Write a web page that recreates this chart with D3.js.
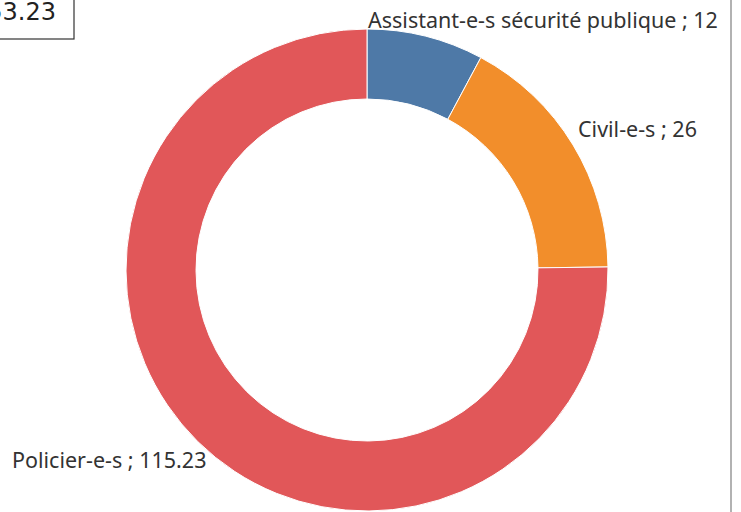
<!DOCTYPE html>
<html>
<head>
<meta charset="utf-8">
<script src="https://cdn.jsdelivr.net/npm/d3@7"></script>
<style>
  html, body { margin: 0; padding: 0; background: #fff; }
  svg { display: block; }
  text { font-family: "Noto Sans", "Open Sans", sans-serif; fill: #333; }
  text.total { font-family: "DejaVu Sans", sans-serif; fill: #222; }
</style>
</head>
<body>
<svg id="chart" width="741" height="512"></svg>
<script>
// Effectifs par catégorie
const categories = ["Assistant-e-s sécurité publique", "Civil-e-s", "Policier-e-s"];
const values = [12, 26, 115.23];
const colors = ["#4e79a7", "#f28e2b", "#e15759"];
const totalLabel = d3.format(".2f")(d3.sum(values));

const svg = d3.select("#chart");
const W = 741, H = 512;
const cx = 367, cy = 270;
const outerR = 241, innerR = 171;

const pie = d3.pie().sort(null).value(d => d.value);
const arcs = pie(categories.map((c, i) => ({ name: c, value: values[i], color: colors[i] })));
const arc = d3.arc().innerRadius(innerR).outerRadius(outerR);

const g = svg.append("g").attr("transform", `translate(${cx},${cy})`);
g.selectAll("path")
  .data(arcs)
  .join("path")
  .attr("d", arc)
  .attr("fill", d => d.data.color)
  .attr("stroke", "#fff")
  .attr("stroke-width", 1);

// Étiquettes des segments
const labelPos = [
  { x: 368, y: 28 },
  { x: 578, y: 137 },
  { x: 12, y: 468 }
];
svg.selectAll("text.lbl")
  .data(arcs)
  .join("text")
  .attr("class", "lbl")
  .attr("x", (d, i) => labelPos[i].x)
  .attr("y", (d, i) => labelPos[i].y)
  .attr("font-size", 21.5)
  .text(d => `${d.data.name} ; ${d.data.value}`);

// Total dans l'encadré
svg.append("rect")
  .attr("x", -60).attr("y", -1)
  .attr("width", 134).attr("height", 40)
  .attr("fill", "#fff")
  .attr("stroke", "#333")
  .attr("stroke-width", 1.2);
svg.append("text")
  .attr("class", "total")
  .attr("x", 56).attr("y", 20)
  .attr("text-anchor", "end")
  .attr("font-size", 24)
  .text(totalLabel);

// Bordure droite
svg.append("line")
  .attr("x1", 731).attr("x2", 731)
  .attr("y1", 0).attr("y2", H)
  .attr("stroke", "#999").attr("stroke-width", 1.5);
</script>
</body>
</html>
